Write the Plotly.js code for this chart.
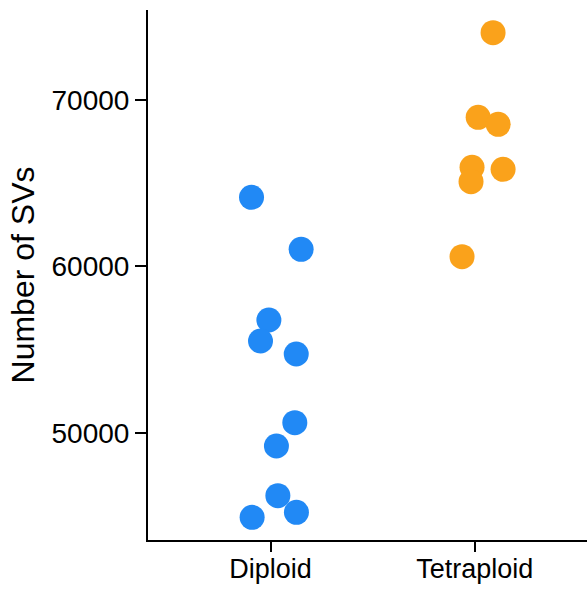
<!DOCTYPE html>
<html>
<head>
<meta charset="utf-8">
<script src="https://cdn.plot.ly/plotly-3.0.1.min.js"></script>
<style>html,body{margin:0;padding:0;background:#fff;}#chart{width:587px;height:590px;}</style>
</head>
<body>
<div id="chart"></div>
<script>
// Categories and tick labels
var categories = ["Diploid", "Tetraploid"];
var categoryPositions = [1, 2];

// Diploid: jittered x positions and number of SVs
var diploidX = [0.907, 1.150, 0.992, 0.951, 1.126, 1.119, 1.029, 1.036, 1.127, 0.910];
var diploidSVs = [64151, 61025, 56775, 55512, 54731, 50601, 49201, 46213, 45215, 44914];

// Tetraploid: jittered x positions and number of SVs
var tetraploidX = [2.090, 2.017, 2.115, 1.987, 1.982, 2.139, 1.938];
var tetraploidSVs = [74046, 68960, 68539, 65954, 65090, 65834, 60580];

var yTicks = [50000, 60000, 70000];

var fontFamily = "Liberation Sans, Arial, Helvetica, sans-serif";

var traces = [
  {
    type: "scatter", mode: "markers", name: categories[0],
    x: diploidX, y: diploidSVs,
    marker: {size: 25, color: "#2189F5", line: {width: 0}},
    hoverinfo: "y"
  },
  {
    type: "scatter", mode: "markers", name: categories[1],
    x: tetraploidX, y: tetraploidSVs,
    marker: {size: 25, color: "#FAA21B", line: {width: 0}},
    hoverinfo: "y"
  }
];

var layout = {
  width: 587, height: 590,
  margin: {l: 148, r: 0, t: 10, b: 50, pad: 0},
  paper_bgcolor: "#ffffff", plot_bgcolor: "#ffffff",
  showlegend: false,
  font: {family: fontFamily, color: "#000000", size: 28},
  xaxis: {
    range: [0.4, 2.55],
    tickvals: categoryPositions, ticktext: categories,
    showgrid: false, zeroline: false,
    showline: true, linecolor: "#000000", linewidth: 2,
    ticks: "outside", ticklen: 10, tickwidth: 2, tickcolor: "#000000",
    ticklabelstandoff: -6,
    tickfont: {family: fontFamily, size: 27, color: "#000000"},
    automargin: false
  },
  yaxis: {
    range: [43550, 75410],
    tickvals: yTicks, ticktext: yTicks.map(String),
    showgrid: false, zeroline: false,
    showline: true, linecolor: "#000000", linewidth: 2,
    ticks: "outside", ticklen: 11, tickwidth: 2, tickcolor: "#000000",
    tickfont: {family: fontFamily, size: 28, color: "#000000"},
    title: {text: "Number of SVs", font: {family: fontFamily, size: 32, color: "#000000"}, standoff: 7},
    automargin: false
  }
};

Plotly.newPlot("chart", traces, layout, {displayModeBar: false, staticPlot: true});
</script>
</body>
</html>
